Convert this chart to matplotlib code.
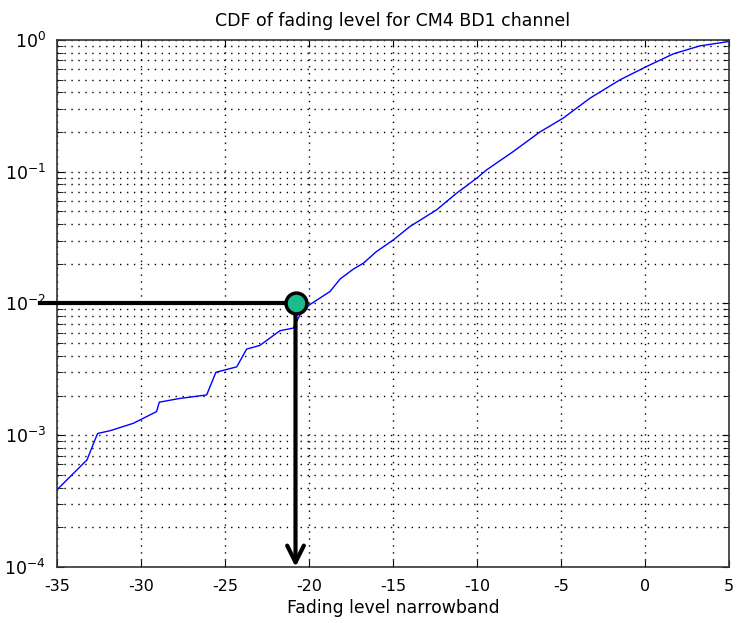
import matplotlib
matplotlib.use("Agg")
import matplotlib.pyplot as plt
from matplotlib.ticker import FuncFormatter
import numpy as np

# CDF
fade_db = [-35.0, -33.21, -32.74, -32.58, -31.85, -30.46, -29.07, -28.91,
           -27.68, -26.09, -25.54, -24.30, -23.71, -22.92, -21.73, -20.93,
           -20.43, -19.94, -18.75, -18.15, -17.36, -16.76, -15.97, -14.98,
           -13.99, -12.40, -11.21, -10.02, -9.43, -7.84, -6.25, -4.86,
           -3.27, -1.49, 0.1, 1.69, 3.27, 4.96, 5.0]
cdf = [3.85e-4, 6.5e-4, 9.2e-4, 1.03e-3, 1.08e-3, 1.23e-3, 1.51e-3, 1.78e-3,
       1.9e-3, 2.02e-3, 3.0e-3, 3.3e-3, 4.5e-3, 4.8e-3, 6.2e-3, 6.5e-3,
       8.7e-3, 9.8e-3, 1.23e-2, 1.53e-2, 1.82e-2, 2.02e-2, 2.48e-2, 3.03e-2,
       3.83e-2, 5.13e-2, 6.86e-2, 8.9e-2, 0.103, 0.142, 0.20, 0.255,
       0.361, 0.497, 0.628, 0.783, 0.90, 0.97, 0.975]

# marked point: 1% outage level
mark_x = -20.8
mark_y = 1e-2

xticks = [-35, -30, -25, -20, -15, -10, -5, 0, 5]

fig = plt.figure(figsize=(7.4, 6.23), dpi=100)
ax = fig.add_axes([0.077, 0.09, 0.908, 0.846])

ax.semilogy(fade_db, cdf, color="#0000ff", lw=1)
ax.set_xlim(-35, 5)
ax.set_ylim(1e-4, 1)
ax.set_xticks(xticks)
ax.set_xticklabels([str(t) for t in xticks])
ax.yaxis.set_major_formatter(
    FuncFormatter(lambda v, p: r"10$^{%d}$" % int(round(np.log10(v)))))

grid_ls = (0, (1, 4))
ax.grid(True, which="major", axis="x", color="black", ls=grid_ls, lw=1)
ax.grid(True, which="both", axis="y", color="black", ls=grid_ls, lw=1)

ax.tick_params(which="both", direction="in", top=True, right=True,
               colors="black")
ax.tick_params(axis="x", labelsize=11.5, pad=9)
ax.tick_params(axis="y", labelsize=12.5, pad=8)
ax.tick_params(which="major", length=5)
ax.tick_params(which="minor", length=4)
for s in ax.spines.values():
    s.set_color("#333333")
    s.set_linewidth(1.2)

ax.set_title("CDF of fading level for CM4 BD1 channel", fontsize=12.5, pad=10)
ax.set_xlabel("Fading level narrowband", fontsize=12.4, labelpad=3)

# reading lines
ax.plot([-36, mark_x], [mark_y, mark_y], color="black", lw=3,
        clip_on=False, zorder=5)
ax.annotate("", xy=(mark_x, 1e-4), xytext=(mark_x, mark_y),
            arrowprops=dict(arrowstyle="->", color="black", lw=3,
                            mutation_scale=30, shrinkA=0, shrinkB=0),
            zorder=5)
ax.plot([mark_x], [mark_y], "o", ms=15, mfc="#1abc8c", mec="black",
        mew=2.5, zorder=6, clip_on=False)

fig.savefig("out.png", dpi=100)
